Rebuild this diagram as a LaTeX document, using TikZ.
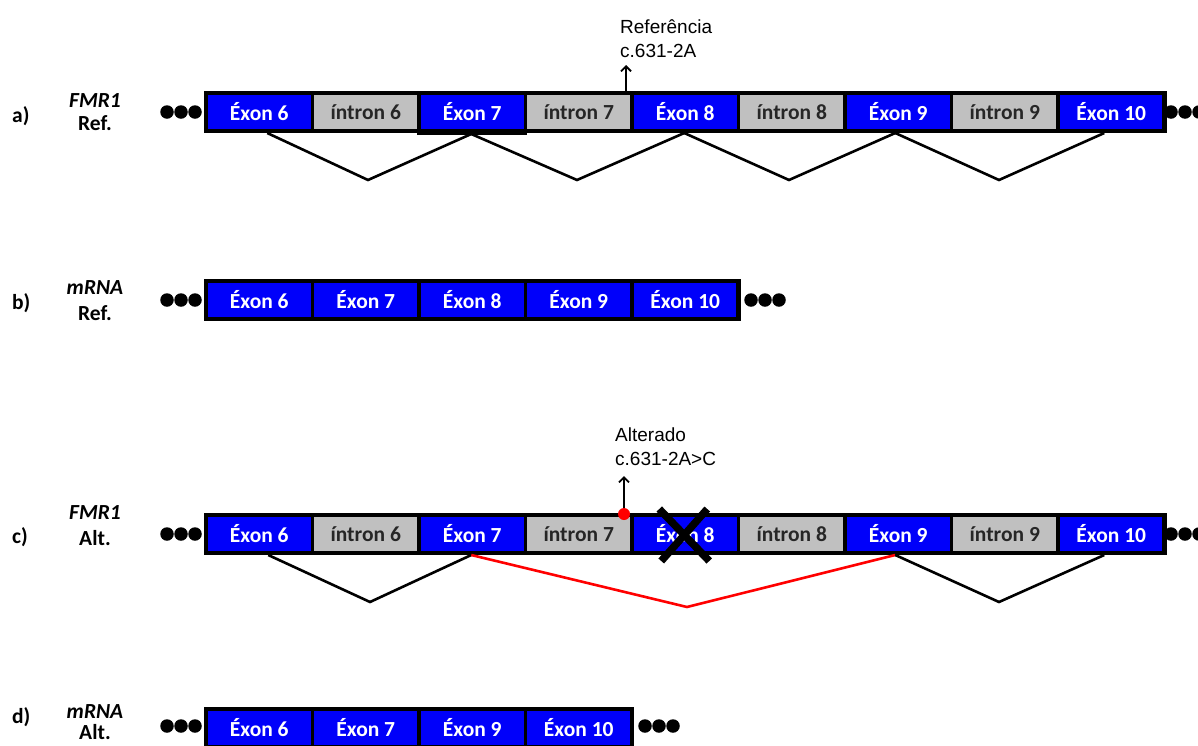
\documentclass[tikz,border=0pt]{standalone}
\usepackage{fontspec}
\setmainfont{Carlito}
\newfontfamily\arialfont{Liberation Sans}
\usetikzlibrary{arrows.meta,calc}

\definecolor{exonblue}{RGB}{0,0,250}
\definecolor{introngray}{RGB}{192,192,192}
\definecolor{inktext}{RGB}{38,38,38}

\begin{document}
\begin{tikzpicture}[x=1pt,y=-1pt,
  seg/.style={draw=black,line width=3.5pt,minimum width=106.5pt,minimum height=38pt,
    inner sep=0pt,outer sep=0pt,anchor=west,font=\fontsize{21.5}{22}\selectfont\bfseries},
  exon/.style={seg,fill=exonblue,text=white},
  intron/.style={seg,fill=introngray,text=inktext},
  frame/.style={draw=black,line width=4.5pt},
  dotmark/.style={circle,fill=black,minimum size=13.5pt,inner sep=0pt},
  rowtag/.style={font=\fontsize{21.5}{22}\selectfont\bfseries,anchor=west,inner sep=0pt},
  genename/.style={font=\fontsize{21.5}{22}\selectfont\bfseries\itshape,inner sep=0pt},
  genekind/.style={font=\fontsize{21.5}{22}\selectfont\bfseries,inner sep=0pt},
  splice/.style={draw=black,line width=2.6pt,line join=miter},
  altsplice/.style={draw=red,line width=2.6pt},
  note/.style={font=\arialfont\fontsize{19}{24}\selectfont,align=left,inner sep=0pt,anchor=base west},
  pointer/.style={draw=black,line width=1.8pt,-{Straight Barb[length=5pt,width=10pt,line width=1.8pt]}},
  cross/.style={draw=black,line width=7.5pt}
]
\useasboundingbox (0,0) rectangle (1198,745);

% ---------- a) FMR1 reference gene ----------
\node[rowtag] (ta) at (12,116) {a)};
\node[genename] (ga) at (95,101) {FMR1};
\node[genekind] (ka) at (95,123) {Ref.};
\node[exon]   (a1) at (206,112) {Éxon 6};
\node[intron] (a2) at (a1.east) {íntron 6};
\node[exon]   (a3) at (a2.east) {Éxon 7};
\node[intron] (a4) at (a3.east) {íntron 7};
\node[exon]   (a5) at (a4.east) {Éxon 8};
\node[intron] (a6) at (a5.east) {íntron 8};
\node[exon]   (a7) at (a6.east) {Éxon 9};
\node[intron] (a8) at (a7.east) {íntron 9};
\node[exon]   (a9) at (a8.east) {Éxon 10};
\draw[frame] (a1.north west) rectangle (a9.south east);
% exon 7 sits a little lower than its neighbours
\fill[black] ($(a3.south west)+(-1.75,0)$) rectangle ($(a3.south east)+(1.75,3.5)$);
\node[dotmark] (la1) at (167,112) {};
\node[dotmark] (la2) at (181,112) {};
\node[dotmark] (la3) at (195,112) {};
\node[dotmark] (ra1) at (1171,112) {};
\node[dotmark] (ra2) at (1185,112) {};
\node[dotmark] (ra3) at (1199,112) {};

\coordinate (pa1) at (368,180);
\coordinate (pa2) at (577,180);
\coordinate (pa3) at (789,180);
\coordinate (pa4) at (999,180);
\draw[splice] ($(a1.south)+(8,2)$) -- (pa1) -- ($(a3.south)+(-1,3)$);
\draw[splice] ($(a3.south)+(-1,3)$) -- (pa2) -- ($(a5.south)+(-1,2)$);
\draw[splice] ($(a5.south)+(-1,2)$) -- (pa3) -- ($(a7.south)+(-3,2)$);
\draw[splice] ($(a7.south)+(-3,2)$) -- (pa4) -- ($(a9.south)+(-7,2)$);

\node[note] (na) at (620,57) {Referência\\c.631-2A};
\coordinate (sa) at ($(a4.north east)+(-6,-2)$);
\draw[pointer] (sa) -- (sa |- 0,65);

% ---------- b) reference mRNA ----------
\node[rowtag] (tb) at (12,303) {b)};
\node[genename] (gb) at (95,288) {mRNA};
\node[genekind] (kb) at (95,313) {Ref.};
\node[exon] (b1) at (206,300) {Éxon 6};
\node[exon] (b2) at (b1.east) {Éxon 7};
\node[exon] (b3) at (b2.east) {Éxon 8};
\node[exon] (b4) at (b3.east) {Éxon 9};
\node[exon] (b5) at (b4.east) {Éxon 10};
\draw[frame] (b1.north west) rectangle (b5.south east);
\node[dotmark] (lb1) at (167,300) {};
\node[dotmark] (lb2) at (181,300) {};
\node[dotmark] (lb3) at (195,300) {};
\node[dotmark] (rb1) at (751,300) {};
\node[dotmark] (rb2) at (765,300) {};
\node[dotmark] (rb3) at (779,300) {};

% ---------- c) FMR1 altered gene ----------
\node[rowtag] (tc) at (12,537) {c)};
\node[genename] (gc) at (95,513) {FMR1};
\node[genekind] (kc) at (95,538) {Alt.};
\node[exon]   (c1) at (206,534) {Éxon 6};
\node[intron] (c2) at (c1.east) {íntron 6};
\node[exon]   (c3) at (c2.east) {Éxon 7};
\node[intron] (c4) at (c3.east) {íntron 7};
\node[exon]   (c5) at (c4.east) {Éxon 8};
\node[intron] (c6) at (c5.east) {íntron 8};
\node[exon]   (c7) at (c6.east) {Éxon 9};
\node[intron] (c8) at (c7.east) {íntron 9};
\node[exon]   (c9) at (c8.east) {Éxon 10};
\draw[frame] (c1.north west) rectangle (c9.south east);
\node[dotmark] (lc1) at (167,534) {};
\node[dotmark] (lc2) at (181,534) {};
\node[dotmark] (lc3) at (195,534) {};
\node[dotmark] (rc1) at (1171,534) {};
\node[dotmark] (rc2) at (1185,534) {};
\node[dotmark] (rc3) at (1199,534) {};

\coordinate (pc1) at (370,602);
\coordinate (pc2) at (687,607);
\coordinate (pc3) at (999,602);
\draw[splice] ($(c1.south)+(9,2)$) -- (pc1) -- ($(c3.south)+(-1,2)$);
\draw[altsplice] ($(c3.south)+(-1,2)$) -- (pc2) -- ($(c7.south)+(-3,2)$);
\draw[splice] ($(c7.south)+(-3,2)$) -- (pc3) -- ($(c9.south)+(-7,2)$);

% skipped exon 8
\draw[cross] ($(c5.center)+(-26,-25)$) -- ($(c5.center)+(24,27)$);
\draw[cross] ($(c5.center)+(22,-25)$) -- ($(c5.center)+(-24,27)$);

\node[note] (nc) at (615,465) {Alterado\\c.631-2A>C};
\coordinate (sc) at ($(c4.north east)+(-8,-1)$);
\node[circle,fill=red,minimum size=12pt,inner sep=0pt] (mut) at (sc) {};
\draw[pointer] (mut.north) -- (sc |- 0,476);

% ---------- d) altered mRNA ----------
\node[rowtag] (td) at (12,717) {d)};
\node[genename] (gd) at (95,712) {mRNA};
\node[genekind] (kd) at (95,732) {Alt.};
\node[exon] (d1) at (206,728) {Éxon 6};
\node[exon] (d2) at (d1.east) {Éxon 7};
\node[exon] (d3) at (d2.east) {Éxon 9};
\node[exon] (d4) at (d3.east) {Éxon 10};
\draw[frame] (d1.north west) rectangle (d4.south east);
\node[dotmark] (ld1) at (167,726) {};
\node[dotmark] (ld2) at (181,726) {};
\node[dotmark] (ld3) at (195,726) {};
\node[dotmark] (rd1) at (645,726) {};
\node[dotmark] (rd2) at (659,726) {};
\node[dotmark] (rd3) at (673,726) {};
\end{tikzpicture}
\end{document}
